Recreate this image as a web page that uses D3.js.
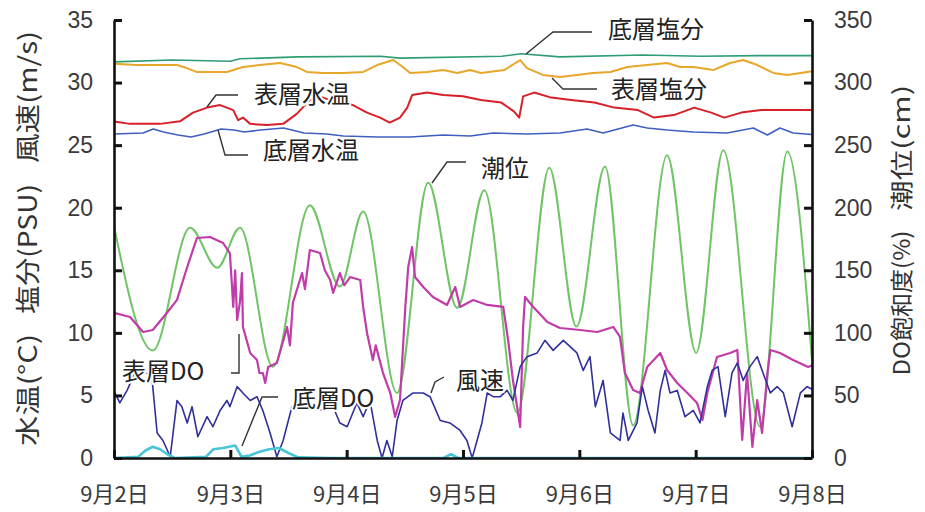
<!DOCTYPE html>
<html><head><meta charset="utf-8">
<script src="https://cdn.jsdelivr.net/npm/d3@7"></script>
<style>
html,body{margin:0;padding:0;background:#fff;}
svg{display:block;}
</style></head>
<body>
<svg id="chart" width="925" height="512"></svg>
<script>
// ---- data (hours since 9/2 00:00, value) ----
const dateLabels = ["9月2日","9月3日","9月4日","9月5日","9月6日","9月7日","9月8日"];
const leftTicks = [0,5,10,15,20,25,30,35];
const rightTicks = [0,50,100,150,200,250,300,350];
const leftTitleParts = ["水温(°C)","塩分(PSU)","風速(m/s)"];
const rightTitleParts = ["DO飽和度(%)","潮位(cm)"];

// 潮位 (cm, right axis)
const tideLevel = [[0,185],[8.0,86],[15.7,184],[21.3,152],[26.0,184],[32.8,73],[40.4,202],[46.6,137],[51.4,197],[58.4,52],[64.8,220],[70.8,120],[76.4,214],[83.2,36],[89.8,232],[95.4,105],[101.3,233],[107.1,26],[114.1,242],[120.1,84],[125.7,246],[133.3,25],[138.9,245],[144,78]];

// 表層DO (%, right axis)
const surfaceDO = [[0,116],[3.3,112.7],[6.0,100.7],[8.0,102.3],[10.9,115.9],[13.0,126.3],[15.1,152.6],[17.1,175.8],[19.8,176.6],[22.5,171.8],[23.9,163.8],[24.3,140],[24.6,120.7],[25.0,150],[25.4,110.3],[26.0,125],[26.4,147.8],[26.6,104.7],[27.3,95],[28.1,83.9],[29.5,78.3],[30.0,68],[30.7,67.9],[31.2,60],[31.8,72.7],[33.6,75.9],[35.0,95],[35.7,104.7],[36.3,90],[36.9,123.9],[38.8,147.8],[39.4,135],[40.4,166.2],[42.5,163.8],[43.5,150],[44.6,142.2],[45.2,132],[46.6,147.8],[47.5,138],[48.7,144.6],[50.8,142.2],[51.4,120.7],[52.2,99.9],[53.4,78.3],[54.0,90],[55.5,67.9],[57.0,51.9],[58.0,32.8],[59.0,46.3],[60.1,120.7],[60.7,152.6],[61.5,168.6],[62.1,144.6],[63.8,136.6],[65.8,128.7],[68.7,122.3],[70.4,136.6],[71.4,120.7],[74.1,126.3],[77.0,122.3],[80.3,120.7],[81.3,94.3],[82.3,62.3],[83.8,24.8],[84.4,104.7],[84.8,128.7],[86.5,120.7],[89.4,108.7],[92.0,103.9],[96.2,102.3],[99.7,100.7],[103.0,104.7],[104.4,96.7],[105.4,67.9],[107.1,54.3],[108.5,51.9],[110.0,72.7],[112.7,83.9],[114.1,70.3],[116.2,59.9],[118.3,51.9],[120.3,43.9],[121.4,30.4],[122.4,51.9],[124.4,80.7],[127.1,83.9],[128.6,86.3],[129.6,14.4],[130.6,67.9],[131.7,8.8],[132.7,46.3],[133.7,20.0],[134.8,67.9],[135.4,86.3],[137.4,83.9],[140.1,78.3],[143.2,72.7],[144,74]];

// 底層DO (%, right axis)
const bottomDO = [[0,0],[5,1],[6.5,6],[8,9],[9.5,7],[11,3],[12.5,0],[19,1],[20.5,7],[22.5,8],[25,10],[26.3,1],[28,2],[30,5],[32,7],[34,8],[36,4],[38,0.5],[45,0],[68,0],[69.5,3],[71,0],[144,0]];

// 風速 (m/s, left axis)
const windSpeed = [[0.2,5.2],[1.2,4.4],[2.7,5.4],[4.3,6.8],[6.0,7.0],[7.8,6.5],[8.9,2.0],[10.1,1.4],[11.6,0.1],[13.0,4.6],[14.0,4.1],[15.1,2.8],[16.1,4.1],[17.3,1.7],[19.2,3.3],[20.4,2.5],[21.9,3.8],[23.3,4.6],[23.9,4.1],[25.4,5.7],[26.6,5.2],[28.1,4.6],[29.5,4.9],[30.7,3.8],[32.2,2.0],[33.6,0.1],[34.9,1.4],[36.7,4.1],[39.0,4.4],[41.1,4.1],[43.1,3.8],[45.2,4.1],[46.6,2.8],[48.1,2.5],[50.1,4.4],[51.4,3.3],[52.8,4.6],[54.3,1.4],[55.3,0],[56.3,1.4],[57.4,0.1],[58.4,3.0],[59.6,4.6],[61.7,5.2],[63.8,5.2],[65.2,4.9],[67.3,3.0],[69.3,2.8],[71.4,2.2],[72.8,1.4],[73.9,0],[74.9,1.4],[75.9,2.8],[77.0,5.2],[78.2,4.9],[79.7,4.9],[81.1,5.4],[82.3,4.6],[83.8,7.3],[85.2,8.1],[87.3,8.4],[88.9,9.4],[90.6,8.6],[92.7,9.4],[94.1,8.9],[95.5,8.4],[96.8,7.0],[98.2,8.1],[99.3,4.1],[100.9,6.2],[102.4,2.0],[104.4,1.4],[105.0,3.6],[106.1,1.4],[107.9,2.8],[109.0,5.7],[110.2,3.8],[111.6,2.0],[112.7,5.4],[113.7,7.0],[114.7,5.2],[116.2,5.4],[117.8,3.3],[119.5,3.8],[120.9,2.8],[122.4,5.7],[123.4,7.0],[124.6,7.3],[126.1,3.3],[127.5,6.8],[128.6,7.6],[129.8,6.2],[131.2,7.3],[132.7,8.1],[133.9,6.8],[135.4,5.2],[136.8,5.7],[138.1,5.2],[139.9,2.5],[141.6,5.2],[143.0,5.7],[144,5.5]];

// 底層塩分 (PSU, left axis)
const bottomSalinity = [[0,31.65],[12,31.8],[24,31.7],[26,31.9],[38,32.05],[55,32.1],[59,31.95],[80,32.1],[84,32.3],[92,32.05],[109,32.2],[121,32.1],[133,32.15],[144,32.15]];

// 表層塩分 (PSU, left axis)
const surfaceSalinity = [[0,31.5],[4.7,31.4],[13,31.4],[15,31.16],[17,30.85],[20.4,30.85],[23.3,30.85],[26.6,31.24],[30,31.4],[34.3,31.56],[37.7,31.24],[39.8,30.85],[43.1,30.77],[47.3,30.77],[51.4,30.85],[54.3,31.4],[57.6,31.8],[59.6,31.24],[61.1,30.77],[64.6,30.85],[67.9,31.0],[70.8,30.77],[73.5,31.0],[75.7,30.77],[80.5,31.0],[83.8,31.8],[85.2,31.16],[88.5,30.61],[92.0,30.45],[95.5,30.61],[98.8,30.77],[102.4,30.85],[105.9,31.24],[110.0,31.4],[114.1,31.56],[116.8,31.24],[119.5,31.24],[123.6,31.0],[127.1,31.56],[129.8,31.8],[132.7,31.4],[136.0,30.77],[138.9,30.61],[143.0,30.85],[144,30.9]];

// 表層水温 (°C, left axis)
const surfaceTemp = [[0,26.9],[3.3,26.7],[9.5,26.7],[13.6,26.9],[16.3,27.6],[19.2,28.0],[21.9,28.2],[24.6,27.8],[25.6,27.0],[26.6,27.2],[28.1,26.7],[31.6,26.6],[34.9,26.7],[37.7,27.5],[40.4,28.6],[43.1,28.8],[46.0,28.4],[49.3,28.2],[52.2,27.6],[54.9,27.2],[56.9,26.8],[59.0,27.2],[60.5,28.0],[61.5,29.0],[64.6,29.2],[67.9,29.0],[72.0,28.9],[75.7,28.6],[79.9,28.4],[82.5,27.7],[83.6,27.2],[84.4,28.9],[86.7,29.2],[90.2,28.8],[94.3,28.6],[99.1,28.4],[103.2,28.0],[108.1,27.8],[111.4,27.2],[115.5,27.4],[119.7,28.0],[123.2,27.6],[125.9,27.2],[129.4,27.6],[133.5,27.8],[137.6,27.8],[144,27.8]];

// 底層水温 (°C, left axis)
const bottomTemp = [[0,25.89],[6,25.97],[8.1,26.29],[10.2,26.05],[13.2,25.81],[15.9,25.65],[18.6,25.89],[22.1,26.29],[24.8,26.21],[26.8,26.05],[30.3,26.21],[35.0,26.37],[39.2,25.97],[43.9,25.89],[47.3,25.73],[54.3,25.65],[61.1,25.65],[67.9,25.81],[73.5,25.73],[78.2,25.97],[85.2,25.89],[92.0,25.97],[97.6,26.29],[100.9,25.97],[107.1,26.61],[110.0,26.37],[114.1,26.21],[119.5,26.05],[126.5,25.97],[131.9,26.37],[134.8,25.81],[137.4,26.37],[140.1,25.97],[144,25.85]];

// ---- drawing ----
const svg = d3.select("#chart");
const x = d3.scaleLinear().domain([0,144]).range([114,812]);
const yL = d3.scaleLinear().domain([0,35]).range([458,20]);
const yR = d3.scaleLinear().domain([0,350]).range([458,20]);

svg.append("defs").append("clipPath").attr("id","plotclip")
  .append("rect").attr("x",114).attr("y",10).attr("width",698).attr("height",448);

const plot = svg.append("g").attr("clip-path","url(#plotclip)");

function drawLine(data, yScale, color, width, curve){
  const gen = d3.line().x(d=>x(d[0])).y(d=>yScale(d[1])).curve(curve || d3.curveLinear);
  plot.append("path").datum(data).attr("d",gen)
    .attr("fill","none").attr("stroke",color).attr("stroke-width",width)
    .attr("stroke-linejoin","round").attr("stroke-linecap","round");
}

drawLine(bottomSalinity, yL, "#2e9e72", 1.6);
drawLine(surfaceSalinity, yL, "#e8a62a", 2);
drawLine(surfaceTemp, yL, "#d82028", 2);
drawLine(bottomTemp, yL, "#3f5fbf", 1.6);
drawLine(tideLevel, yR, "#70c466", 2, d3.curveMonotoneX);
drawLine(surfaceDO, yR, "#c03ca8", 2.2);
drawLine(windSpeed, yL, "#30309a", 1.6);
drawLine(bottomDO, yR, "#48c6d8", 2.6);

// axes
const tickFont = "'Liberation Sans', Arial, sans-serif";
function styleAxis(g){
  g.select(".domain").attr("stroke","#111").attr("stroke-width",2.6);
  g.selectAll(".tick line").attr("stroke","#111").attr("stroke-width",3);
  g.selectAll(".tick text").attr("fill","#3a3a3a").style("font-family",tickFont).style("font-size","23px");
}
svg.append("g").attr("transform","translate(114,0)")
  .call(d3.axisLeft(yL).tickValues(leftTicks).tickSize(-8).tickSizeOuter(0).tickPadding(21))
  .call(styleAxis);
svg.append("g").attr("transform","translate(812,0)")
  .call(d3.axisRight(yR).tickValues(rightTicks).tickSize(-8).tickSizeOuter(0).tickPadding(22))
  .call(styleAxis);
svg.append("g").attr("transform","translate(0,458)")
  .call(d3.axisBottom(x).tickValues(dateLabels.map((d,i)=>i*24)).tickFormat((d,i)=>dateLabels[i]).tickSize(-8).tickSizeOuter(0).tickPadding(28))
  .call(styleAxis)
  .call(g=>g.selectAll(".tick text").style("font-family","'Noto Sans CJK JP', sans-serif").style("font-size","22px"));

// axis titles (rotated, each part centred/stretched where it sits in the reference)
const jp = "'Noto Sans CJK JP', sans-serif";
const leftTitleY = [390, 249, 97], leftTitleLen = [112, 130, 132];
leftTitleParts.forEach((t,i)=>{
  svg.append("text").attr("transform",`translate(26,${leftTitleY[i]}) rotate(-90)`)
    .attr("text-anchor","middle").attr("dominant-baseline","central")
    .attr("textLength",leftTitleLen[i]).attr("lengthAdjust","spacingAndGlyphs")
    .style("font-family",jp).style("font-size","25px").attr("fill","#333").text(t);
});
const rightTitleY = [303, 148], rightTitleLen = [145, 126];
rightTitleParts.forEach((t,i)=>{
  svg.append("text").attr("transform",`translate(900,${rightTitleY[i]}) rotate(-90)`)
    .attr("text-anchor","middle").attr("dominant-baseline","central")
    .attr("textLength",rightTitleLen[i]).attr("lengthAdjust","spacingAndGlyphs")
    .style("font-family",jp).style("font-size","23px").attr("fill","#333").text(t);
});

// annotations: [label, text x, text y, leader points]
const notes = [
  ["底層塩分", 608, 27, [[526,54],[553,32],[592,32]]],
  ["表層塩分", 611, 87, [[552,78],[563,89],[597,89]]],
  ["表層水温", 254, 92, [[207,107],[216,95],[238,95]]],
  ["底層水温", 263, 148, [[218,130],[225,155],[248,155]]],
  ["潮位", 481, 166, [[432,183],[447,162],[466,162]]],
  ["表層DO", 122, 369, [[239,334],[239,373],[231,373]]],
  ["底層DO", 292, 396, [[242,446],[262,397],[278,397]]],
  ["風速", 456, 378, [[431,393],[435,382],[444,377]]]
];
const ann = svg.append("g");
notes.forEach(n=>{
  ann.append("path").attr("d", d3.line()(n[3])).attr("fill","none").attr("stroke","#333").attr("stroke-width",1.4);
  ann.append("text").attr("x",n[1]).attr("y",n[2]).attr("dominant-baseline","central")
    .style("font-family",jp).style("font-size","24px").attr("fill","#222")
    .attr("stroke","#fff").attr("stroke-width",4).attr("paint-order","stroke")
    .text(n[0]);
});
</script>
</body></html>
